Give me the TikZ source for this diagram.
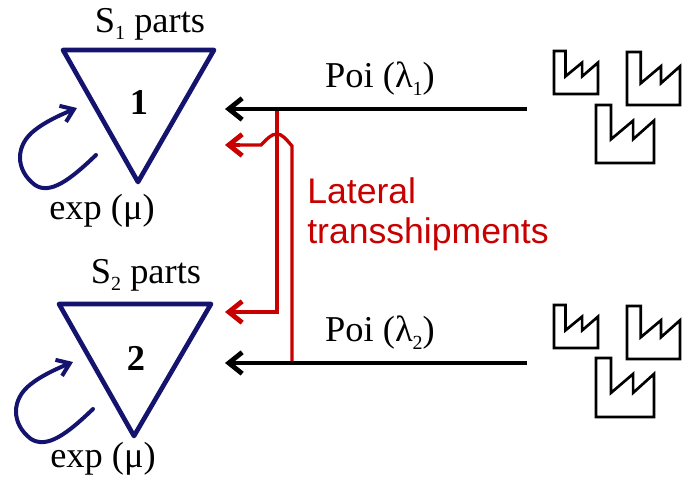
\documentclass[tikz,border=0pt]{standalone}
\usepackage{fontspec}
\usetikzlibrary{arrows.meta}
\setmainfont{Liberation Serif}
\setsansfont{Liberation Sans}
\definecolor{navy}{RGB}{20,20,110}
\definecolor{transred}{RGB}{200,0,0}
\newcommand{\lowsub}[1]{\raisebox{-0.2em}{\fontsize{15}{15}\selectfont #1}}

\begin{document}
\begin{tikzpicture}[
    x=0.75pt, y=-0.75pt,
    >=stealth,
    every node/.style={font=\fontsize{27.3}{30}\selectfont, inner sep=0pt},
    stock/.style={draw=navy, line width=3.5pt, line join=round},
    loopback/.style={draw=navy, line width=3pt, line cap=round, -{Straight Barb[length=9pt,width=13pt]}},
    supply/.style={draw=black, line width=3.2pt, -{Straight Barb[length=10pt,width=16pt,line width=3.6pt]}},
    lateral/.style={draw=transred, line width=2.5pt},
    lateraltip/.style={draw=transred, line width=2.8pt, -{Straight Barb[length=10pt,width=16pt,line width=3.6pt]}},
    factoryline/.style={draw=black, line width=2pt, line join=miter},
    pics/factory/.style={code={
        \draw[factoryline] (0,0) -- (0,-1) -- (0.26,-1) -- (0.26,-0.41) -- (0.64,-0.73)
            -- (0.64,-0.41) -- (1,-0.73) -- (1,0) -- cycle;
    }}
]
\useasboundingbox (0,0) rectangle (687,477);

% depots
\draw[stock] (63,50) -- (214,50) -- (138,182) -- cycle;
\draw[stock] (59,304) -- (211,304) -- (134,436) -- cycle;
\node (num1) at (139,102) {\textbf{1}};
\node (num2) at (136,358) {\textbf{2}};
\node (parts1) at (150,24) {S\lowsub{1} parts};
\node (parts2) at (146,275) {S\lowsub{2} parts};
\node (exp1) at (102,211) {exp (μ)};
\node (exp2) at (103,459) {exp (μ)};

% repair loops
\coordinate (loop1s) at (96,155);
\coordinate (loop1e) at (77,108);
\coordinate (loop2s) at (93,409);
\coordinate (loop2e) at (73,362);
\draw[loopback] (loop1s) .. controls (70,180) and (50,195) .. (35,185)
    .. controls (15,170) and (15,145) .. (35,130) .. controls (45,122) and (60,115) .. (loop1e);
\draw[loopback] (loop2s) .. controls (67,434) and (47,449) .. (31,439)
    .. controls (11,424) and (11,399) .. (31,384) .. controls (41,376) and (56,369) .. (loop2e);

% supply lines
\coordinate (plant1) at (527,109);
\coordinate (plant2) at (527,363);
\coordinate (tip1) at (225,109);
\coordinate (tip2) at (225,363);
\coordinate (tipa) at (225,145);
\coordinate (tipb) at (225,312);
\coordinate (tapa) at (277,109);
\coordinate (tapb) at (292,363);

\draw[lateral] (tapa) -- (277,312) -- (240,312);
\draw[lateral] (tapb) -- (292,146) .. controls (286,139) and (282,134) .. (277,134)
    .. controls (271,134) and (267,139) .. (261,145) -- (240,145);
\draw[lateraltip] (240,145) -- (tipa);
\draw[lateraltip] (240,312) -- (tipb);
\draw[supply] (plant1) -- (tip1);
\draw[supply] (plant2) -- (tip2);

\node (poi1) at (380,79) {Poi (λ\lowsub{1})};
\node (poi2) at (380,333) {Poi (λ\lowsub{2})};
\node[font=\fontsize{26.7}{30.5}\selectfont\sffamily, text=transred, align=left, anchor=north west] (lateraltext)
    at (307,177) {Lateral\\transshipments};

% suppliers
\pic[xscale=44, yscale=43] at (554,94) {factory};
\pic[xscale=53, yscale=53] at (627,105) {factory};
\pic[xscale=58, yscale=58] at (596,163) {factory};
\pic[xscale=44, yscale=43] at (554,348) {factory};
\pic[xscale=53, yscale=53] at (627,359) {factory};
\pic[xscale=58, yscale=59] at (596,417) {factory};
\end{tikzpicture}
\end{document}
